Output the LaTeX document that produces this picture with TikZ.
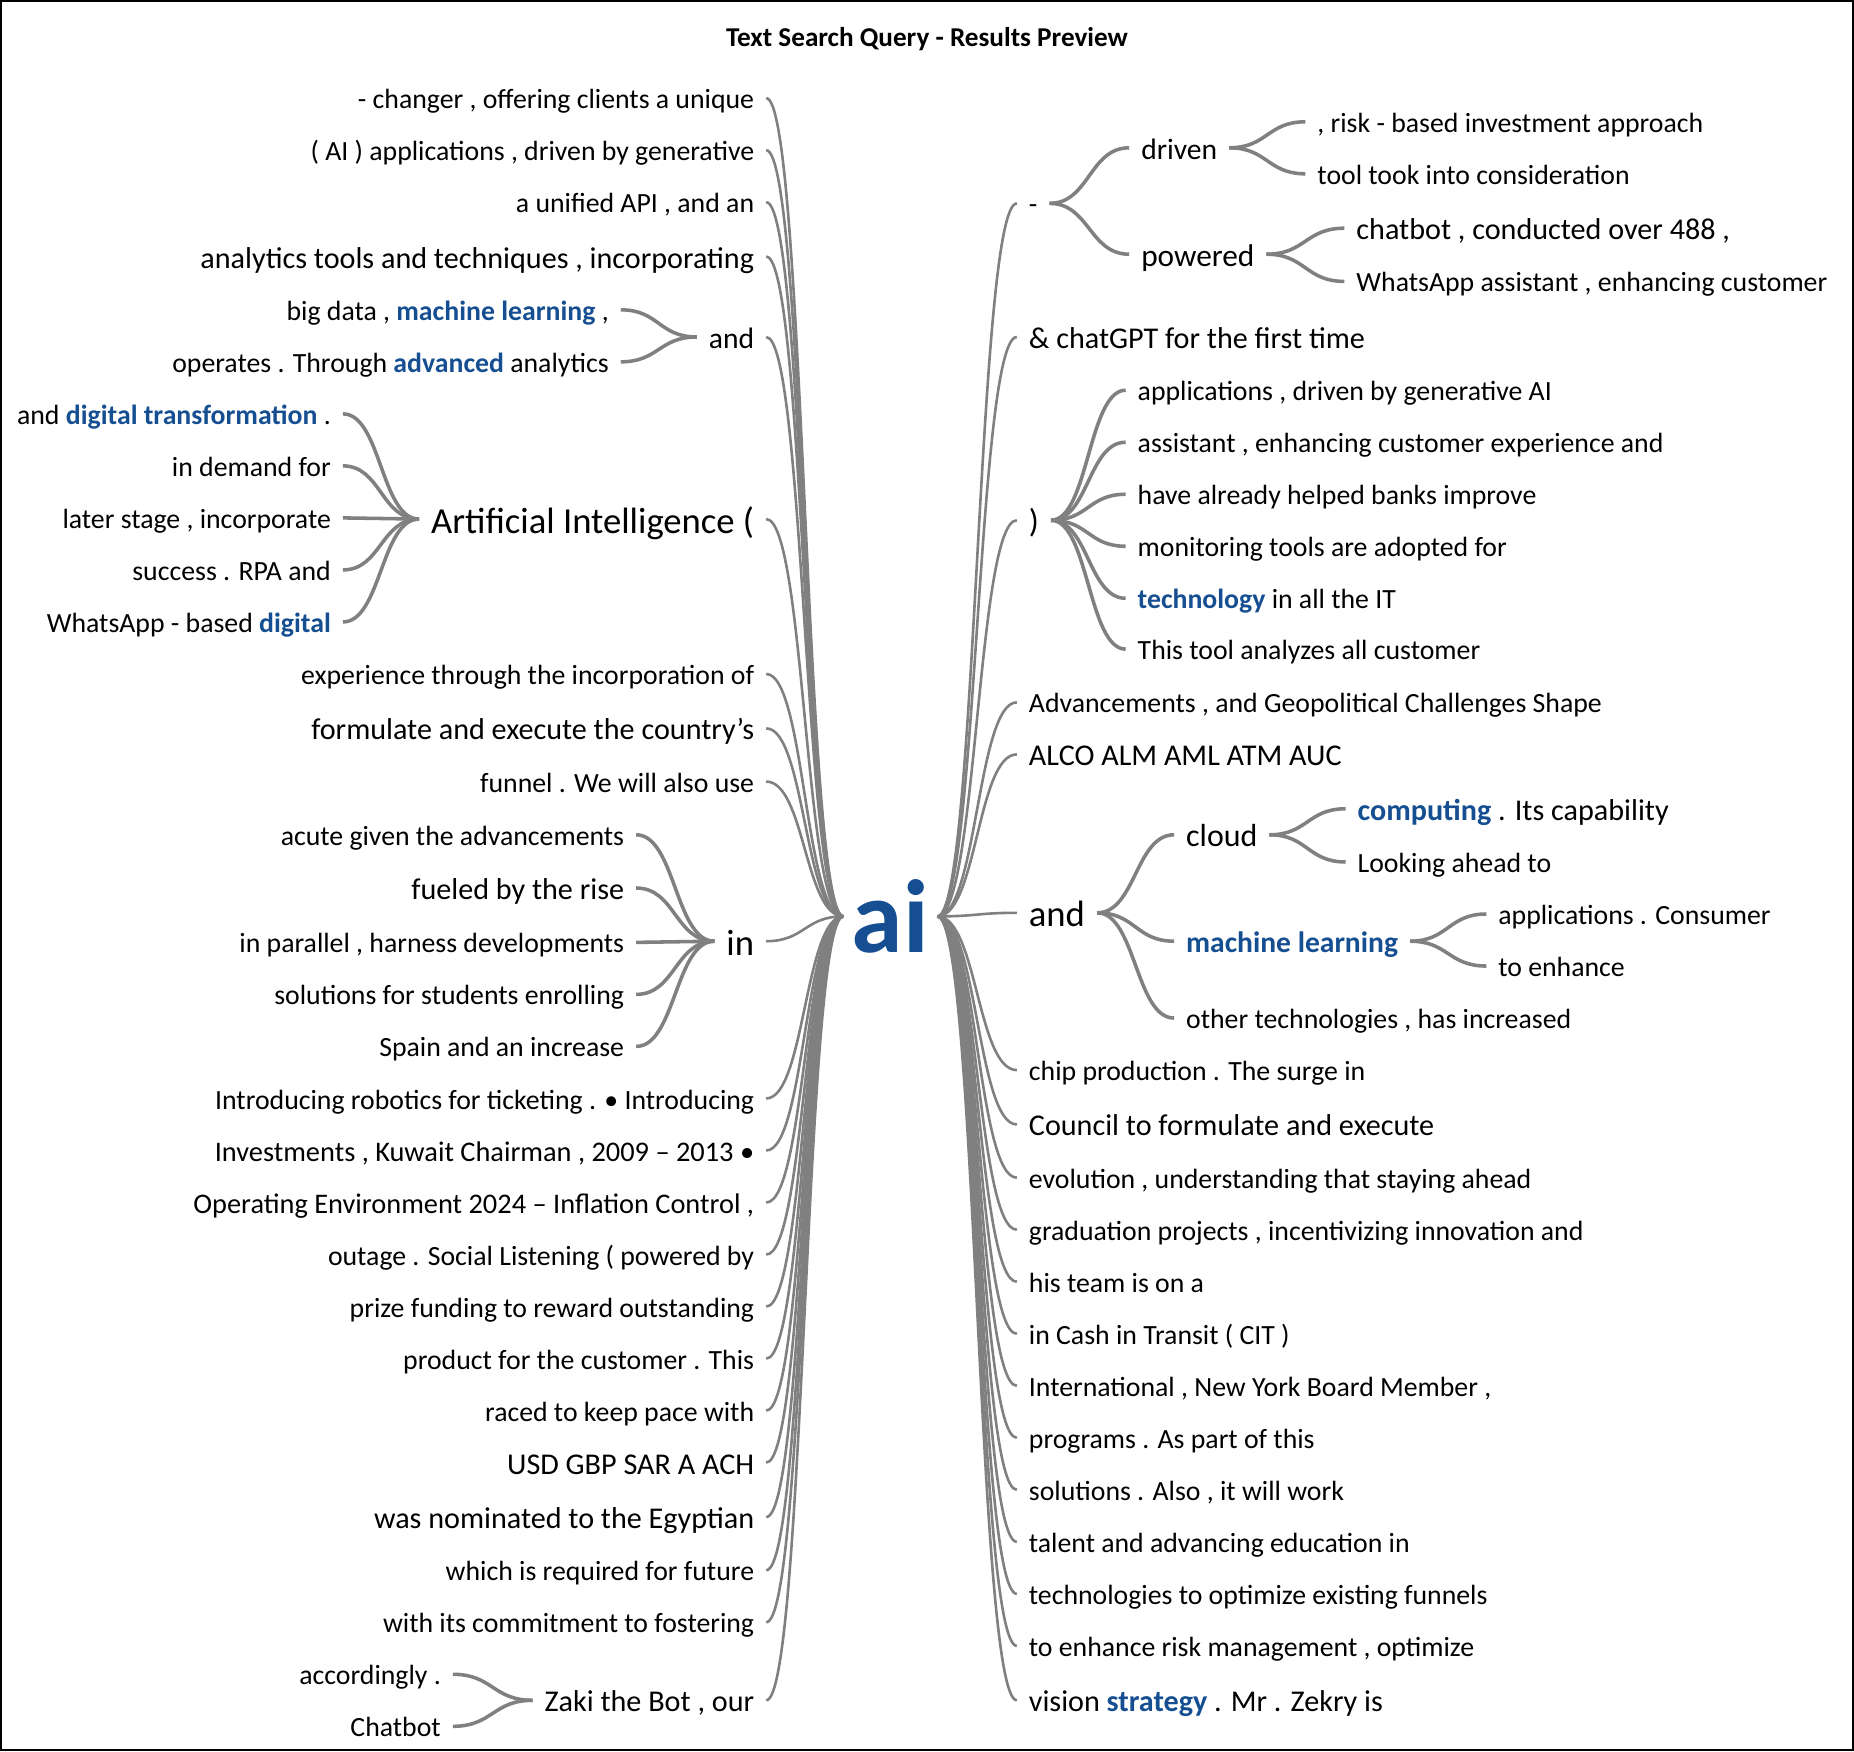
\documentclass[tikz,border=0pt]{standalone}
\usepackage{fontspec}
\setmainfont{Carlito}
\usetikzlibrary{calc}

\definecolor{kwblue}{RGB}{22,79,145}
\definecolor{linkgray}{RGB}{128,128,128}
\newcommand\kw[1]{{\bfseries\color{kwblue}#1}}

\tikzset{
  word/.style={font=\fontsize{#1}{#1}\selectfont, inner xsep=10pt, inner ysep=0pt,
    text height=#1*0.76pt, text depth=0pt},
  word/.default=23.5,
  hub/.style={font=\fontsize{88}{88}\selectfont\bfseries, text=kwblue, inner xsep=7pt, inner ysep=0pt},
  link/.style={draw=linkgray, line width=2.2pt,
    to path={let \p1=(\tikztostart), \p2=(\tikztotarget) in
      .. controls ({(\x1+\x2)/2},\y1) and ({(\x1+\x2)/2},\y2) .. (\tikztotarget)}},
}

\begin{document}
\begin{tikzpicture}[x=1pt, y=-1pt]
\useasboundingbox (0,0) rectangle (1568,1481);
\draw[line width=2pt] (1,1) rectangle (1567,1480);

\node[font=\fontsize{23}{23}\selectfont\bfseries] (title) at (784,33) {Text Search Query - Results Preview};
\node[hub] (ai) at (753,775) {ai};

% left side
\begin{scope}[every node/.style={word, anchor=east}]
\node (l1) at (648, 83) {- changer , offering clients a unique};
\node (l2) at (648, 127) {( AI ) applications , driven by generative};
\node (l3) at (648, 171) {a unified API , and an};
\node (l4) at (648, 217) [word=25.5] {analytics tools and techniques , incorporating};
\node (l5) at (648, 285) [word=25] {and};
\node (l5a) at (525, 262) {big data , \kw{machine learning} ,};
\node (l5b) at (525, 306) {operates . Through \kw{advanced} analytics};
\node (l6) at (648, 439) [word=31] {Artificial Intelligence (};
\node (l6a) at (290, 350) {and \kw{digital transformation} .};
\node (l6b) at (290, 394) {in demand for};
\node (l6c) at (290, 438) {later stage , incorporate};
\node (l6d) at (290, 482) {success . RPA and};
\node (l6e) at (290, 526) {WhatsApp - based \kw{digital}};
\node (l7) at (648, 570) {experience through the incorporation of};
\node (l8) at (648, 616) [word=25.5] {formulate and execute the country’s};
\node (l9) at (648, 661) {funnel . We will also use};
\node (l10) at (648, 796) [word=31] {in};
\node (l10a) at (538, 706) {acute given the advancements};
\node (l10b) at (538, 751) [word=25.5] {fueled by the rise};
\node (l10c) at (538, 797) {in parallel , harness developments};
\node (l10d) at (538, 841) {solutions for students enrolling};
\node (l10e) at (538, 885) {Spain and an increase};
\node (l11) at (648, 929) {Introducing robotics for ticketing . • Introducing};
\node (l12) at (648, 973) [word=24] {Investments , Kuwait Chairman , 2009 – 2013 •};
\node (l13) at (648, 1017) [word=24] {Operating Environment 2024 – Inflation Control ,};
\node (l14) at (648, 1061) {outage . Social Listening ( powered by};
\node (l15) at (648, 1105) {prize funding to reward outstanding};
\node (l16) at (648, 1149) {product for the customer . This};
\node (l17) at (648, 1193) {raced to keep pace with};
\node (l18) at (648, 1237) [word=25.5] {USD GBP SAR A ACH};
\node (l19) at (648, 1283) [word=25.5] {was nominated to the Egyptian};
\node (l20) at (648, 1328) {which is required for future};
\node (l21) at (648, 1372) {with its commitment to fostering};
\node (l22) at (648, 1438) [word=25.5] {Zaki the Bot , our};
\node (l22a) at (383, 1416) {accordingly .};
\node (l22b) at (383, 1460) {Chatbot};
\end{scope}

% right side
\begin{scope}[every node/.style={word, anchor=west}]
\node (r1) at (860, 172) {-};
\node (r1a) at (955, 125) [word=25] {driven};
\node (r1a1) at (1104, 103) {, risk - based investment approach};
\node (r1a2) at (1104, 147) {tool took into consideration};
\node (r1b) at (955, 215) [word=26.5] {powered};
\node (r1b1) at (1137, 193) [word=25.5] {chatbot , conducted over 488 ,};
\node (r1b2) at (1137, 238) {WhatsApp assistant , enhancing customer};
\node (r2) at (860, 285) [word=25.5] {\& chatGPT for the first time};
\node (r3) at (860, 440) [word=28] {)};
\node (r3a) at (952, 330) {applications , driven by generative AI};
\node (r3b) at (952, 374) {assistant , enhancing customer experience and};
\node (r3c) at (952, 418) {have already helped banks improve};
\node (r3d) at (952, 462) {monitoring tools are adopted for};
\node (r3e) at (952, 506) {\kw{technology} in all the IT};
\node (r3f) at (952, 549) {This tool analyzes all customer};
\node (r4) at (860, 594) {Advancements , and Geopolitical Challenges Shape};
\node (r5) at (860, 638) [word=25.5] {ALCO ALM AML ATM AUC};
\node (r6) at (860, 772) [word=31] {and};
\node (r6a) at (993, 706) [word=27] {cloud};
\node (r6a1) at (1138, 684) [word=25.5] {\kw{computing} . Its capability};
\node (r6a2) at (1138, 729) {Looking ahead to};
\node (r6b) at (993, 796) [word=25] {\kw{machine learning}};
\node (r6b1) at (1257, 773) {applications . Consumer};
\node (r6b2) at (1257, 817) {to enhance};
\node (r6c) at (993, 861) {other technologies , has increased};
\node (r7) at (860, 905) {chip production . The surge in};
\node (r8) at (860, 951) [word=25.5] {Council to formulate and execute};
\node (r9) at (860, 996) {evolution , understanding that staying ahead};
\node (r10) at (860, 1040) {graduation projects , incentivizing innovation and};
\node (r11) at (860, 1084) {his team is on a};
\node (r12) at (860, 1128) {in Cash in Transit ( CIT )};
\node (r13) at (860, 1172) {International , New York Board Member ,};
\node (r14) at (860, 1216) {programs . As part of this};
\node (r15) at (860, 1260) {solutions . Also , it will work};
\node (r16) at (860, 1304) {talent and advancing education in};
\node (r17) at (860, 1348) {technologies to optimize existing funnels};
\node (r18) at (860, 1392) {to enhance risk management , optimize};
\node (r19) at (860, 1438) [word=25.5] {vision \kw{strategy} . Mr . Zekry is};
\end{scope}

\begin{scope}[link]
\draw (ai.west) to (l1.east);
\draw (ai.west) to (l2.east);
\draw (ai.west) to (l3.east);
\draw (ai.west) to (l4.east);
\draw (ai.west) to (l5.east);
\draw (ai.west) to (l6.east);
\draw (ai.west) to (l7.east);
\draw (ai.west) to (l8.east);
\draw (ai.west) to (l9.east);
\draw (ai.west) to (l10.east);
\draw (ai.west) to (l11.east);
\draw (ai.west) to (l12.east);
\draw (ai.west) to (l13.east);
\draw (ai.west) to (l14.east);
\draw (ai.west) to (l15.east);
\draw (ai.west) to (l16.east);
\draw (ai.west) to (l17.east);
\draw (ai.west) to (l18.east);
\draw (ai.west) to (l19.east);
\draw (ai.west) to (l20.east);
\draw (ai.west) to (l21.east);
\draw (ai.west) to (l22.east);
\draw (ai.east) to (r1.west);
\draw (ai.east) to (r2.west);
\draw (ai.east) to (r3.west);
\draw (ai.east) to (r4.west);
\draw (ai.east) to (r5.west);
\draw (ai.east) to (r6.west);
\draw (ai.east) to (r7.west);
\draw (ai.east) to (r8.west);
\draw (ai.east) to (r9.west);
\draw (ai.east) to (r10.west);
\draw (ai.east) to (r11.west);
\draw (ai.east) to (r12.west);
\draw (ai.east) to (r13.west);
\draw (ai.east) to (r14.west);
\draw (ai.east) to (r15.west);
\draw (ai.east) to (r16.west);
\draw (ai.east) to (r17.west);
\draw (ai.east) to (r18.west);
\draw (ai.east) to (r19.west);
\end{scope}
\begin{scope}[link, line width=3pt]
\draw (l5.west) to (l5a.east);
\draw (l5.west) to (l5b.east);
\draw (l6.west) to (l6a.east);
\draw (l6.west) to (l6b.east);
\draw (l6.west) to (l6c.east);
\draw (l6.west) to (l6d.east);
\draw (l6.west) to (l6e.east);
\draw (l10.west) to (l10a.east);
\draw (l10.west) to (l10b.east);
\draw (l10.west) to (l10c.east);
\draw (l10.west) to (l10d.east);
\draw (l10.west) to (l10e.east);
\draw (l22.west) to (l22a.east);
\draw (l22.west) to (l22b.east);
\draw (r1.east) to (r1a.west);
\draw (r1.east) to (r1b.west);
\draw (r1a.east) to (r1a1.west);
\draw (r1a.east) to (r1a2.west);
\draw (r1b.east) to (r1b1.west);
\draw (r1b.east) to (r1b2.west);
\draw (r3.east) to (r3a.west);
\draw (r3.east) to (r3b.west);
\draw (r3.east) to (r3c.west);
\draw (r3.east) to (r3d.west);
\draw (r3.east) to (r3e.west);
\draw (r3.east) to (r3f.west);
\draw (r6.east) to (r6a.west);
\draw (r6.east) to (r6b.west);
\draw (r6.east) to (r6c.west);
\draw (r6a.east) to (r6a1.west);
\draw (r6a.east) to (r6a2.west);
\draw (r6b.east) to (r6b1.west);
\draw (r6b.east) to (r6b2.west);
\end{scope}

\end{tikzpicture}
\end{document}
